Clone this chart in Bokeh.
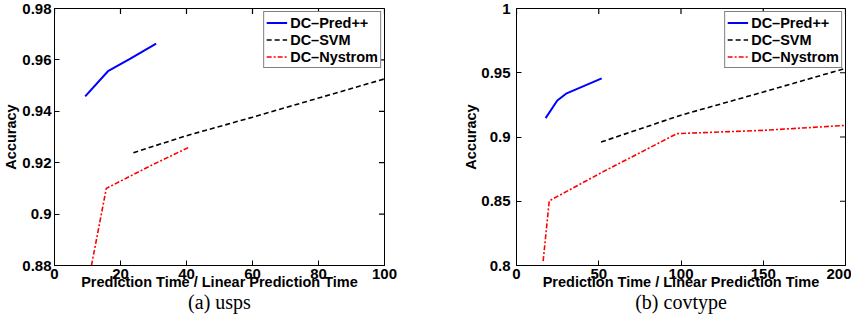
import math
from bokeh.plotting import figure
from bokeh.layouts import row
from bokeh.models import Range1d, FixedTicker, Title, Legend, LegendItem
from bokeh.embed import file_html
from bokeh.resources import INLINE

# ---------------- data ----------------
series_names = ["DC\u2013Pred++", "DC\u2013SVM", "DC\u2013Nystrom"]

usps_pred_x = [9.3, 16.2, 23.0, 30.8]
usps_pred_y = [0.9458, 0.9556, 0.9605, 0.9663]
usps_svm_x = [23.9, 40.0, 60.0, 100.0]
usps_svm_y = [0.9239, 0.9305, 0.9377, 0.9526]
usps_nys_x = [11.2, 15.7, 30.5, 40.9]
usps_nys_y = [0.8800, 0.9100, 0.9197, 0.9261]

cov_pred_x = [17.7, 24.8, 30.5, 51.8]
cov_pred_y = [0.9147, 0.9284, 0.9340, 0.9456]
cov_svm_x = [51.4, 100.0, 150.0, 200.0]
cov_svm_y = [0.8961, 0.9170, 0.9350, 0.9534]
cov_nys_x = [16.2, 19.9, 51.8, 97.5, 150.0, 200.0]
cov_nys_y = [0.8034, 0.8503, 0.8724, 0.9026, 0.9052, 0.9090]

usps_xticks = [0, 20, 40, 60, 80, 100]
usps_xlabels = ["0", "20", "40", "60", "80", "100"]
usps_yticks = [0.88, 0.90, 0.92, 0.94, 0.96, 0.98]
usps_ylabels = ["0.88", "0.9", "0.92", "0.94", "0.96", "0.98"]

cov_xticks = [0, 50, 100, 150, 200]
cov_xlabels = ["0", "50", "100", "150", "200"]
cov_yticks = [0.80, 0.85, 0.90, 0.95, 1.0]
cov_ylabels = ["0.8", "0.85", "0.9", "0.95", "1"]

x_title = "Prediction Time / Linear Prediction Time"
y_title = "Accuracy"
captions = ["(a) usps", "(b) covtype"]

# ---------------- style ----------------
SANS = "Liberation Sans"
SERIF = "Liberation Serif"
TICK_FS = "15px"
LABEL_FS = "14.5px"


def style_axis(ax, ticks, labels):
    ax.ticker = FixedTicker(ticks=ticks)
    ax.major_label_overrides = {t: l for t, l in zip(ticks, labels)}
    ax.major_tick_in = 5
    ax.major_tick_out = 0
    ax.minor_tick_line_color = None
    ax.major_tick_line_color = "black"
    ax.axis_line_color = "black"
    ax.major_label_text_font = SANS
    ax.major_label_text_font_style = "bold"
    ax.major_label_text_color = "black"
    ax.major_label_text_font_size = TICK_FS


def make_panel(xr, yr, xticks, xlabels, yticks, ylabels, data, width,
               bl, br, ystandoff, ylabstandoff, caption):
    p = figure(width=width, height=315, output_backend="svg", toolbar_location=None,
               x_range=Range1d(*xr), y_range=Range1d(*yr),
               min_border_left=bl, min_border_right=br,
               min_border_top=8, min_border_bottom=50)
    p.grid.visible = False
    p.outline_line_color = "black"
    p.outline_line_width = 1
    p.background_fill_color = "white"
    p.border_fill_color = "white"

    style_axis(p.xaxis[0], xticks, xlabels)
    style_axis(p.yaxis[0], yticks, ylabels)
    p.xaxis[0].major_label_standoff = 3
    p.yaxis[0].major_label_standoff = ystandoff
    p.xaxis[0].axis_label = x_title
    p.yaxis[0].axis_label = y_title
    for ax in (p.xaxis[0], p.yaxis[0]):
        ax.axis_label_text_font = SANS
        ax.axis_label_text_font_style = "bold"
        ax.axis_label_text_font_size = LABEL_FS
        ax.axis_label_text_color = "black"
    p.xaxis[0].axis_label_standoff = -8
    p.yaxis[0].axis_label_standoff = ylabstandoff

    # mirrored inward ticks on the top and right edges (half of each dash is clipped by the frame)
    p.scatter(xticks, [yr[1]] * len(xticks), marker="dash", size=11, angle=math.pi / 2,
              line_color="black", line_width=1.2)
    p.scatter([xr[1]] * len(yticks), yticks, marker="dash", size=11,
              line_color="black", line_width=1.2)

    (px, py), (sx, sy), (nx, ny) = data
    r1 = p.line(px, py, line_color="#0000ff", line_width=2)
    r2 = p.line(sx, sy, line_color="black", line_width=1.6, line_dash="5 3")
    r3 = p.line(nx, ny, line_color="#ff0000", line_width=1.6, line_dash="5 2 2 2")

    legend = Legend(items=[LegendItem(label=series_names[0], renderers=[r1]),
                           LegendItem(label=series_names[1], renderers=[r2]),
                           LegendItem(label=series_names[2], renderers=[r3])],
                    location="top_right")
    legend.border_line_color = "black"
    legend.border_line_width = 1
    legend.background_fill_color = "white"
    legend.background_fill_alpha = 1
    legend.label_text_font = SANS
    legend.label_text_font_style = "bold"
    legend.label_text_font_size = LABEL_FS
    legend.label_text_color = "black"
    legend.margin = 3
    legend.padding = 2
    legend.spacing = 0
    legend.label_height = 17
    legend.glyph_height = 17
    legend.glyph_width = 21
    legend.label_standoff = 3
    p.add_layout(legend, "center")

    cap = Title(text=caption, align="center", vertical_align="middle",
                text_font=SERIF, text_font_size="20px",
                text_font_style="normal", text_color="black", standoff=-6)
    p.add_layout(cap, "below")
    return p


p1 = make_panel((0, 100), (0.88, 0.98), usps_xticks, usps_xlabels, usps_yticks, usps_ylabels,
                [(usps_pred_x, usps_pred_y), (usps_svm_x, usps_svm_y), (usps_nys_x, usps_nys_y)],
                width=460, bl=49, br=76, ystandoff=3, ylabstandoff=0, caption=captions[0])
p2 = make_panel((0, 200), (0.8, 1.0), cov_xticks, cov_xlabels, cov_yticks, cov_ylabels,
                [(cov_pred_x, cov_pred_y), (cov_svm_x, cov_svm_y), (cov_nys_x, cov_nys_y)],
                width=391, bl=55, br=6, ystandoff=6, ylabstandoff=-1, caption=captions[1])

layout = row(p1, p2)
open("out.html", "w").write(file_html(layout, INLINE))
